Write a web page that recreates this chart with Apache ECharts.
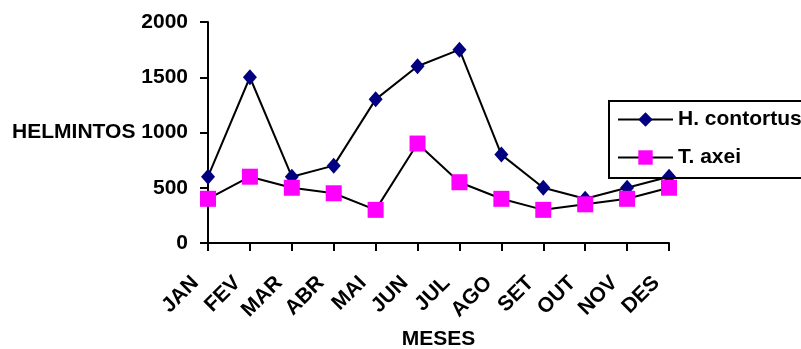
<!DOCTYPE html>
<html><head><meta charset="utf-8">
<script src="https://cdn.jsdelivr.net/npm/echarts@6/dist/echarts.min.js"></script>
<style>html,body{margin:0;padding:0;background:#fff}#c{width:801px;height:349px}</style>
</head><body><div id="c"></div>
<script>
const months = ['JAN','FEV','MAR','ABR','MAI','JUN','JUL','AGO','SET','OUT','NOV','DES'];
const hContortus = [600,1500,600,700,1300,1600,1750,800,500,400,500,600];
const tAxei = [400,600,500,450,300,900,550,400,300,350,400,500];
const seriesNames = ['H. contortus','T. axei'];
const yTicks = [0,500,1000,1500,2000];

const F = 'Liberation Sans, Arial, sans-serif';
const chart = echarts.init(document.getElementById('c'), null, {renderer:'canvas'});
chart.setOption({
  animation:false,
  backgroundColor:'#fff',
  grid:{left:208,right:132,top:22,bottom:106,containLabel:false,outerBoundsMode:'none'},
  legend:{
    left:609, top:101, orient:'vertical',
    data:seriesNames,
    itemWidth:55, itemHeight:18, itemGap:17,
    padding:[8,60,10,8],
    borderColor:'#000', borderWidth:2,
    textStyle:{fontFamily:F,fontWeight:'bold',fontSize:21,color:'#000',lineHeight:20}
  },
  xAxis:{
    type:'category', data:months, boundaryGap:false,
    axisLine:{lineStyle:{color:'#000',width:2}},
    axisTick:{alignWithLabel:true,length:8,lineStyle:{color:'#000',width:2}},
    axisLabel:{rotate:45,interval:0,margin:24,padding:[0,18,0,0],fontFamily:F,fontWeight:'bold',fontSize:21,color:'#000'},
    name:'MESES', nameLocation:'middle', nameGap:86,
    nameTextStyle:{fontFamily:F,fontWeight:'bold',fontSize:21,color:'#000'}
  },
  yAxis:{
    type:'value', min:yTicks[0], max:yTicks[yTicks.length-1], interval:500,
    axisLine:{show:true,lineStyle:{color:'#000',width:2}},
    axisTick:{show:true,length:8,lineStyle:{color:'#000',width:2}},
    splitLine:{show:false},
    axisLabel:{margin:20,formatter:v=>String(v),fontFamily:F,fontWeight:'bold',fontSize:21,color:'#000'},
    name:'HELMINTOS', nameLocation:'middle', nameRotate:0, nameGap:72,
    nameTextStyle:{fontFamily:F,fontWeight:'bold',fontSize:21,color:'#000'}
  },
  series:[
    {name:seriesNames[0],type:'line',data:hContortus,symbol:'diamond',symbolSize:[14,16],
     lineStyle:{color:'#000',width:2},itemStyle:{color:'#000080'}},
    {name:seriesNames[1],type:'line',data:tAxei,symbol:'rect',symbolSize:16,
     lineStyle:{color:'#000',width:2},itemStyle:{color:'#ff00ff'}}
  ]
});
</script></body></html>
